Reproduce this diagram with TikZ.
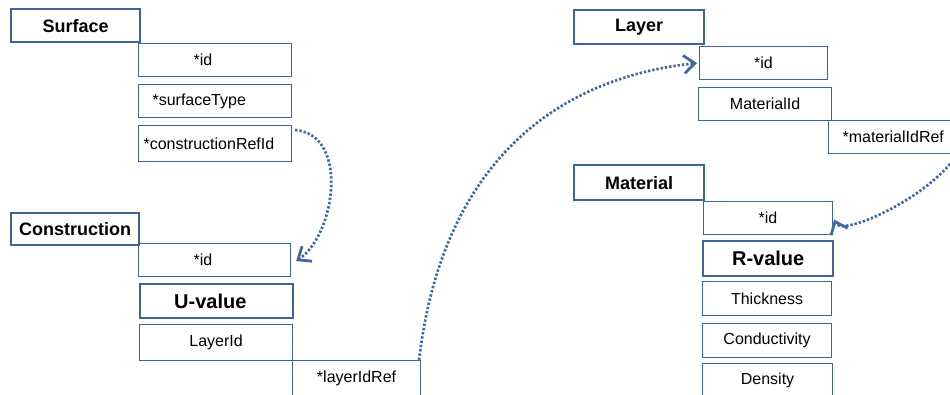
\documentclass[tikz,border=0pt]{standalone}
\usepackage{fontspec}
\setmainfont{Liberation Sans}
\usetikzlibrary{arrows.meta}
\definecolor{boxblue}{RGB}{64,100,150}
\definecolor{linkblue}{RGB}{66,106,160}
\begin{document}
\begin{tikzpicture}[x=1pt,y=-1pt,
  ent/.style={draw=boxblue, line width=2.4pt, anchor=north west, inner sep=0pt,
    font=\fontsize{18}{20}\selectfont\bfseries},
  keyf/.style={draw=boxblue, line width=2.4pt, anchor=north west, inner sep=0pt,
    font=\fontsize{20}{22}\selectfont\bfseries},
  fld/.style={draw=boxblue, line width=1.1pt, anchor=north west, inner sep=0pt,
    font=\fontsize{16}{18}\selectfont},
  sz/.style 2 args={minimum width=#1pt, minimum height=#2pt},
  lft/.style 2 args={inner xsep=#1pt, text width=#2pt, align=left},
  link/.style={draw=linkblue, line width=2.7pt, dash pattern=on 2.4pt off 1.9pt,
    -{Straight Barb[length=11pt,width=18pt,line width=2.8pt]}}]
\useasboundingbox (0,0) rectangle (950,394);

% Surface
\node[ent, sz={129}{33}] (surf) at (10,8) {Surface};
\node[fld, sz={153}{33}, lft={55}{43}] (sid) at (138,43) {*id};
\node[fld, sz={153}{33}, lft={14}{125}] (stype) at (138,84) {*surfaceType};
\node[fld, sz={153}{36}, lft={5}{143}] (scr) at (138,125) {*constructionRefId};

% Construction
\node[ent, sz={128}{32}] (cons) at (10,212) {Construction};
\node[fld, sz={152}{33}, lft={55}{42}] (cid) at (138,243) {*id};
\node[keyf, sz={153}{34}, lft={34}{85}] (uval) at (139,283) {U-value};
\node[fld, sz={153}{36}] (clay) at (139,324) {LayerId};
\node[fld, sz={128}{35}] (lref) at (292,360) {*layerIdRef};

% Layer
\node[ent, sz={130}{34}] (layer) at (573,9) {Layer};
\node[fld, sz={128}{33}] (lid) at (699,46) {*id};
\node[fld, sz={133}{33}] (lmat) at (698,87) {MaterialId};
\node[fld, sz={124}{33}, lft={14}{96}] (mref) at (828,120) {*materialIdRef};

% Material
\node[ent, sz={130}{35}] (mat) at (573,164) {Material};
\node[fld, sz={129}{33}] (mid) at (703,201) {*id};
\node[keyf, sz={130}{35}] (rval) at (702,240) {R-value};
\node[fld, sz={129}{34}] (thick) at (702,281) {Thickness};
\node[fld, sz={129}{34}] (cond) at (702,323) {Conductivity};
\node[fld, sz={130}{34}] (dens) at (702,363) {Density};

% references
\coordinate (mout) at (960,150);
\draw[link] ([xshift=3pt,yshift=-5pt]scr.north east)
  .. controls (350,135) and (335,235) .. ([xshift=5pt,yshift=-1pt]cid.east);
\draw[link] ([xshift=-2pt]lref.north east)
  .. controls (440,180) and (540,80) .. ([xshift=-2pt]lid.west);
\draw[link] (mout)
  .. controls (935,195) and (842,238) .. ([xshift=1pt,yshift=-1.5pt]mid.east);
\end{tikzpicture}
\end{document}
